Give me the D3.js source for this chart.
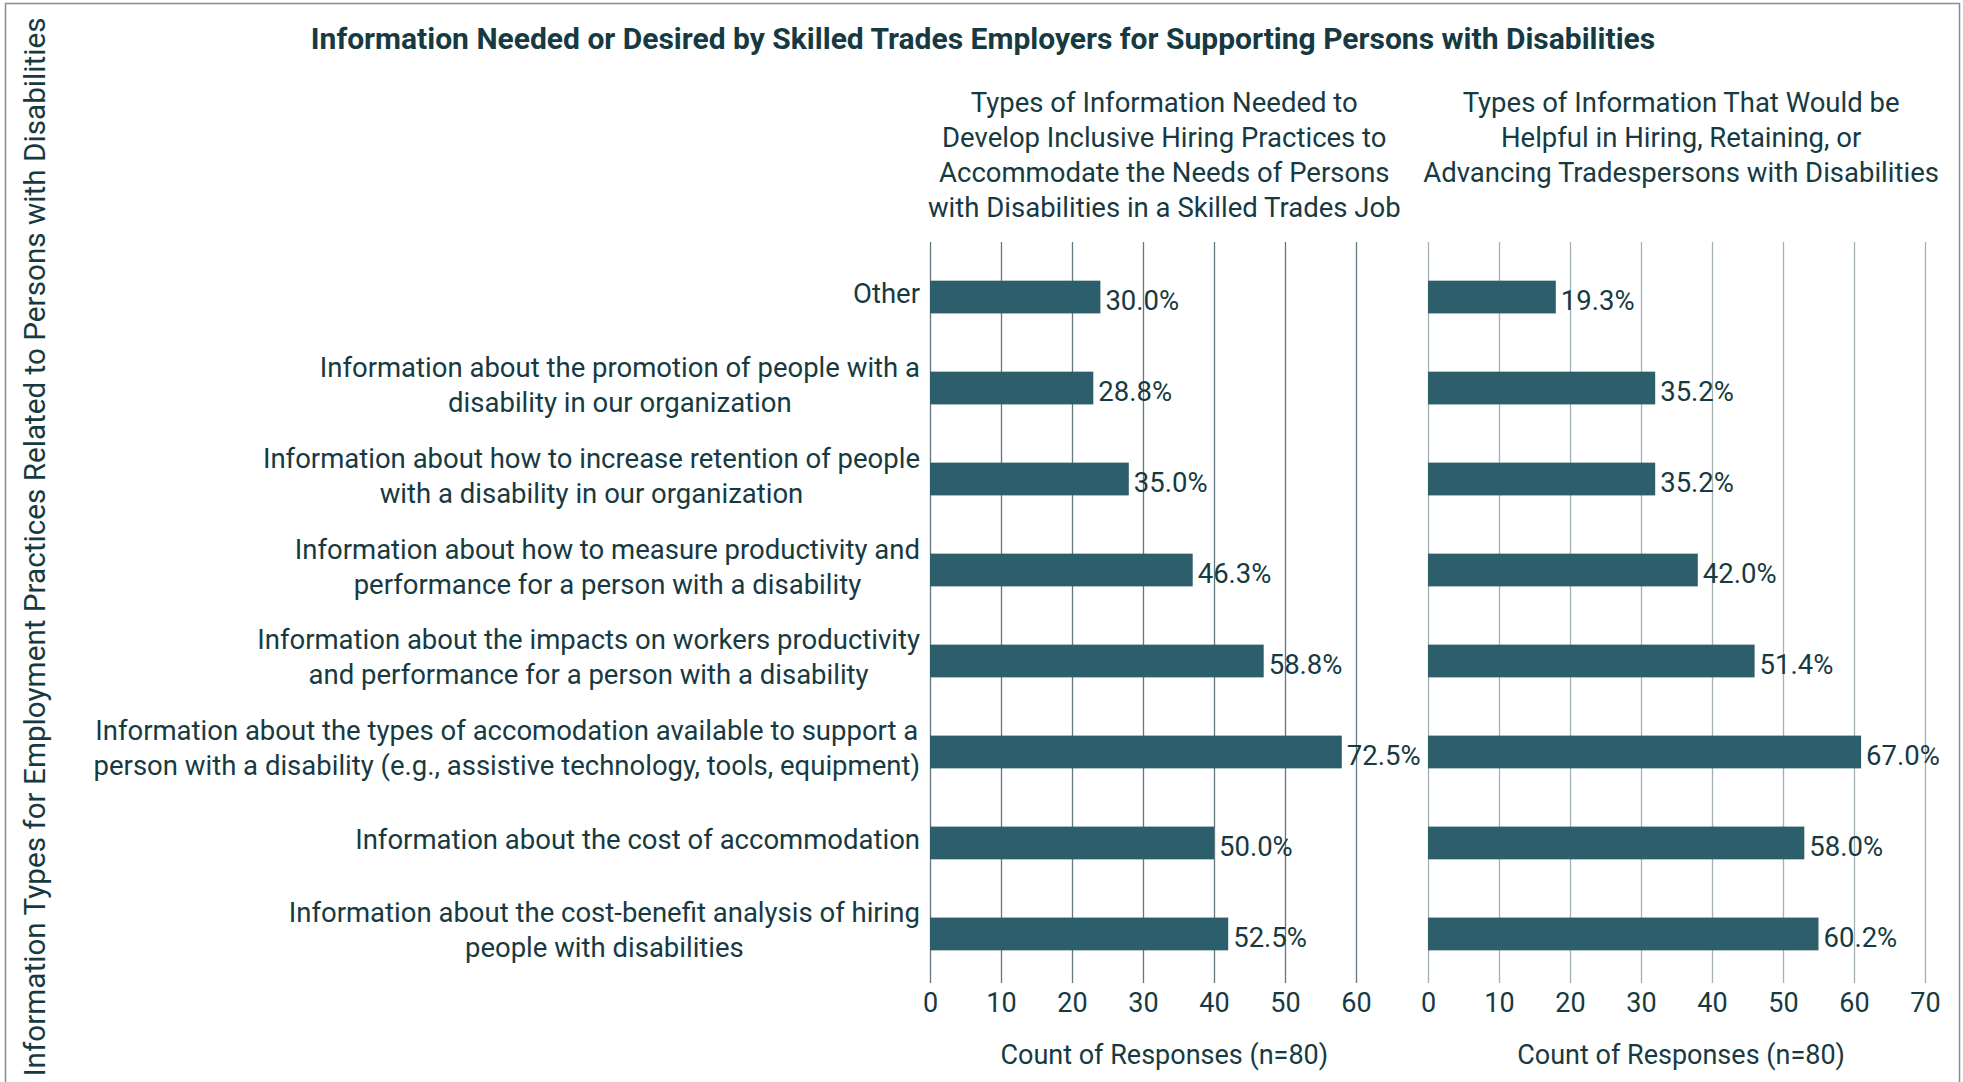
<!DOCTYPE html>
<html>
<head>
<meta charset="utf-8">
<script src="https://cdn.jsdelivr.net/npm/d3@7"></script>
<style>
    body { margin: 0; background: #fff; }
    svg text { font-family: Roboto, "Noto Sans", sans-serif; fill: #173a42; }
</style>
</head>
<body>
<svg id="chart" width="1963" height="1082"></svg>
<script>
// data -----------------------------------------------------------------------
var chart_title = "Information Needed or Desired by Skilled Trades Employers for Supporting Persons with Disabilities";
var y_title = "Information Types for Employment Practices Related to Persons with Disabilities";
var x_title = "Count of Responses (n=80)";

var categories = [
    "Other",
    "Information about the promotion of people with a\ndisability in our organization",
    "Information about how to increase retention of people\nwith a disability in our organization",
    "Information about how to measure productivity and\nperformance for a person with a disability",
    "Information about the impacts on workers productivity\nand performance for a person with a disability",
    "Information about the types of accomodation available to support a\nperson with a disability (e.g., assistive technology, tools, equipment)",
    "Information about the cost of accommodation",
    "Information about the cost-benefit analysis of hiring\npeople with disabilities"
];

var hiring_title = ["Types of Information Needed to", "Develop Inclusive Hiring Practices to",
    "Accommodate the Needs of Persons", "with Disabilities in a Skilled Trades Job"];
var hiring_counts = [24, 23, 28, 37, 47, 58, 40, 42];
var hiring_labels = ["30.0%", "28.8%", "35.0%", "46.3%", "58.8%", "72.5%", "50.0%", "52.5%"];
var hiring_ticks = [0, 10, 20, 30, 40, 50, 60];

var helpful_title = ["Types of Information That Would be", "Helpful in Hiring, Retaining, or",
    "Advancing Tradespersons with Disabilities"];
var helpful_counts = [18, 32, 32, 38, 46, 61, 53, 55];
var helpful_labels = ["19.3%", "35.2%", "35.2%", "42.0%", "51.4%", "67.0%", "58.0%", "60.2%"];
var helpful_ticks = [0, 10, 20, 30, 40, 50, 60, 70];

// layout ---------------------------------------------------------------------
var bar_color = "#2c5f6b";
var unit = 7.1; // px per response
var grid_top = 242, grid_bottom = 983;
var label_right = 920;
var fs = "27.5px";

var svg = d3.select("#chart");

// frame
svg.append("rect")
    .attr("x", 5.5).attr("y", 3.5)
    .attr("width", 1954).attr("height", 1100)
    .attr("fill", "none")
    .attr("stroke", "#7f9197")
    .attr("stroke-width", 1.5);

var y = d3.scaleBand()
    .domain(categories)
    .range([grid_top, 989])
    .paddingInner(0.64)
    .paddingOuter(0.425);

var x_hiring = d3.scaleLinear().domain([0, 66]).range([930, 930 + 66 * unit]);
var x_helpful = d3.scaleLinear().domain([0, 71.3]).range([1428, 1428 + 71.3 * unit]);

draw_panel(x_hiring, hiring_counts, hiring_labels, hiring_ticks, hiring_title, "#62777e");
draw_panel(x_helpful, helpful_counts, helpful_labels, helpful_ticks, helpful_title, "#a3b0b4");

//-----------------------------------------------------------------------------
function draw_panel(x, counts, labels, ticks, title_lines, grid_color) {
    var rows = categories.map(function(c, i) { return {cat: c, value: counts[i], label: labels[i]}; });

    var axis = svg.append("g")
        .attr("transform", `translate(0,${grid_bottom})`)
        .call(d3.axisBottom(x).tickValues(ticks).tickSize(-(grid_bottom - grid_top)).tickPadding(10));
    axis.select(".domain").remove();
    axis.selectAll(".tick line").attr("stroke", grid_color).attr("stroke-width", 1.3);
    axis.selectAll(".tick text").attr("font-size", "27px");

    svg.append("g").selectAll("rect")
        .data(rows)
        .enter().append("rect")
            .attr("x", x(0))
            .attr("y", d => y(d.cat))
            .attr("width", d => x(d.value) - x(0))
            .attr("height", y.bandwidth())
            .attr("fill", bar_color);

    svg.append("g").selectAll("text")
        .data(rows)
        .enter().append("text")
            .attr("x", d => x(d.value) + 5)
            .attr("y", d => y(d.cat) + y.bandwidth() / 2 + 13)
            .attr("font-size", fs)
            .text(d => d.label);

    var mid = (x.range()[0] + x.range()[1]) / 2;

    var sub = svg.append("text")
        .attr("text-anchor", "middle")
        .attr("font-size", fs);
    sub.selectAll("tspan")
        .data(title_lines)
        .enter().append("tspan")
            .attr("x", mid)
            .attr("y", (d, i) => 112 + i * 35)
            .text(d => d);

    svg.append("text")
        .attr("x", mid)
        .attr("y", 1064)
        .attr("text-anchor", "middle")
        .attr("font-size", "27px")
        .text(x_title);
}

// category labels, centred lines, block pushed against the bars
categories.forEach(function(c) {
    var lines = c.split("\n");
    var center = y(c) + y.bandwidth() / 2;
    var t = svg.append("text")
        .attr("text-anchor", "middle")
        .attr("font-size", fs);
    var spans = t.selectAll("tspan")
        .data(lines)
        .enter().append("tspan")
            .attr("y", (d, i) => center + 6 + (i - (lines.length - 1) / 2) * 35)
            .text(d => d);
    var max_w = d3.max(spans.nodes(), n => n.getComputedTextLength());
    spans.attr("x", label_right - max_w / 2);
});

// titles
svg.append("text")
    .attr("x", 983)
    .attr("y", 49)
    .attr("text-anchor", "middle")
    .attr("font-size", "30px")
    .attr("font-weight", "bold")
    .text(chart_title);

svg.append("text")
    .attr("transform", "translate(45,547) rotate(-90)")
    .attr("text-anchor", "middle")
    .attr("font-size", "29.7px")
    .text(y_title);
</script>
</body>
</html>
